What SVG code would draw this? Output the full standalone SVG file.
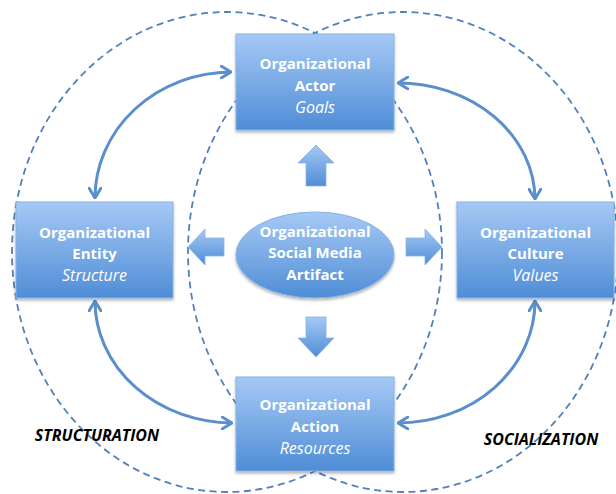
<svg xmlns="http://www.w3.org/2000/svg" width="616" height="494" viewBox="0 0 616 494">
<defs>
<linearGradient id="g" x1="0" y1="0" x2="0" y2="1">
<stop offset="0" stop-color="#a6c9f5"/>
<stop offset="1" stop-color="#4f8dd6"/>
</linearGradient>
<filter id="sh" x="-10%" y="-10%" width="120%" height="125%">
<feDropShadow dx="0" dy="2" stdDeviation="1.5" flood-color="#000" flood-opacity="0.3"/>
</filter>
<marker id="ah" viewBox="0 0 12 14" refX="11" refY="7" markerWidth="12" markerHeight="14" markerUnits="userSpaceOnUse" orient="auto-start-reverse">
<path d="M1,1 L11,7 L1,13" fill="none" stroke="#5b8fcc" stroke-width="3" stroke-linecap="round" stroke-linejoin="round"/>
</marker>
</defs>
<style>
.dash{fill:none;stroke:#4f81bd;stroke-width:1.8;stroke-dasharray:7 4.5}
.box{fill:url(#g);stroke:#86b2e6;stroke-width:1;filter:url(#sh)}
.blk{fill:url(#g);stroke:#86b2e6;stroke-width:0.8}
.cur{fill:none;stroke:#5b8fcc;stroke-width:3;marker-start:url(#ah);marker-end:url(#ah)}
.t{font-family:"Open Sans","DejaVu Sans",sans-serif;font-size:15px;fill:#fff;text-anchor:middle}
.b{font-weight:bold}
.i{font-style:italic;font-size:16px}
.lab{font-family:"Open Sans","DejaVu Sans",sans-serif;font-size:16px;font-weight:bold;font-style:italic;fill:#000;text-anchor:middle}
</style>
<g id="regions">
<ellipse class="dash" cx="227" cy="252" rx="215" ry="240"/>
<ellipse class="dash" cx="403" cy="252" rx="215" ry="240"/>
</g>
<g id="connectors">
<path class="cur" d="M95,198 A137 126 0 0 1 231,72"/>
<path class="cur" d="M398,83 A137 117 0 0 1 535,199"/>
<path class="cur" d="M95,301 A138 122 0 0 0 232,423"/>
<path class="cur" d="M535,301 A137 122 0 0 1 398,423"/>
<polygon class="blk" points="316,145 334,163 326,163 326,186 306,186 306,163 298,163"/>
<polygon class="blk" points="306,317 326,317 326,338 334,338 316,357 298,338 306,338"/>
<polygon class="blk" points="188,247 205,229 205,238 224,238 224,256 205,256 205,265"/>
<polygon class="blk" points="442,247 425,229 425,238 406,238 406,256 425,256 425,265"/>
</g>
<g id="actor">
<rect class="box" x="236" y="34" width="158" height="96"/>
<text class="t b" x="315" y="69">Organizational</text>
<text class="t b" x="315" y="91">Actor</text>
<text class="t i" x="315" y="113">Goals</text>
</g>
<g id="entity">
<rect class="box" x="16" y="202" width="157" height="96"/>
<text class="t b" x="94.5" y="238">Organizational</text>
<text class="t b" x="94.5" y="259">Entity</text>
<text class="t i" x="94.5" y="281">Structure</text>
</g>
<g id="culture">
<rect class="box" x="457" y="202" width="157" height="96"/>
<text class="t b" x="535.5" y="238">Organizational</text>
<text class="t b" x="535.5" y="259">Culture</text>
<text class="t i" x="535.5" y="281">Values</text>
</g>
<g id="action">
<rect class="box" x="236" y="377" width="158" height="94"/>
<text class="t b" x="315" y="410">Organizational</text>
<text class="t b" x="315" y="432">Action</text>
<text class="t i" x="315" y="454">Resources</text>
</g>
<g id="artifact">
<ellipse class="box" cx="315" cy="255" rx="79" ry="43"/>
<text class="t b" x="315" y="237">Organizational</text>
<text class="t b" x="315" y="258">Social Media</text>
<text class="t b" x="315" y="280">Artifact</text>
</g>
<g id="labels">
<text class="lab" x="97" y="441">STRUCTURATION</text>
<text class="lab" x="541" y="445">SOCIALIZATION</text>
</g>
</svg>
